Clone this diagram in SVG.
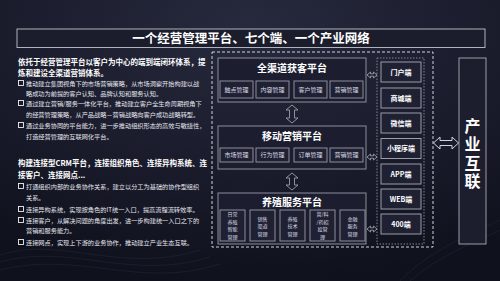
<svg xmlns="http://www.w3.org/2000/svg" width="500" height="281" viewBox="0 0 500 281">
<defs>
<radialGradient id="bg" cx="0.5" cy="0.1" r="0.9">
<stop offset="0" stop-color="#272a3d"/>
<stop offset="0.6" stop-color="#191b2b"/>
<stop offset="1" stop-color="#0f111c"/>
</radialGradient>
<style>
text{font-family:"Noto Sans CJK SC","Noto Sans",sans-serif;fill:#ffffff}
.h{font-size:7.5px;font-weight:bold}
.b{font-size:6.2px;fill:#e6e6ee}
.bx{fill:none;stroke:#f0f0f0;stroke-width:0.9}
.plat{fill:#1c1e30;stroke:#8c8e9c;stroke-width:1}
.sub{fill:#1f2133;stroke:#8c8e9c;stroke-width:1}
.pt{font-size:10px;font-weight:bold;text-anchor:middle}
.st{font-size:6px;text-anchor:middle;fill:#dcdce4}
.sc{font-size:5.1px;text-anchor:middle;fill:#dcdce4}
.end{fill:#1f2133;stroke:#9a9ca8;stroke-width:1}
.et{font-size:7px;font-weight:bold;text-anchor:middle}
.arr{fill:none;stroke:#9a9ca8;stroke-width:0.9}
.wave{fill:none;stroke:#3a4060;stroke-width:0.5;opacity:0.5}
</style>
</defs>
<rect width="500" height="281" fill="url(#bg)"/>
<g id="bgwaves">
<path class="wave" d="M0 255 C60 235 120 275 200 250"/>
<path class="wave" d="M0 262 C70 242 130 282 210 257"/>
<path class="wave" d="M0 270 C80 250 140 290 220 264"/>
<path class="wave" d="M400 281 C430 250 470 235 500 220"/>
<path class="wave" d="M410 281 C440 255 475 242 500 230"/>
</g>

<g id="title">
<rect x="17" y="29" width="468" height="18.5" fill="#1b1d2d" stroke="#b0b2bc" stroke-width="1"/>
<text x="251" y="43" text-anchor="middle" font-size="12.5" font-weight="bold">一个经营管理平台、七个端、一个产业网络</text>
</g>

<g id="leftText1">
<text class="h" x="18" y="65">依托于经营管理平台以客户为中心的端到端闭环体系，提</text>
<text class="h" x="18" y="76">炼和建设全渠道营销体系。</text>
<rect class="bx" x="18.5" y="80.5" width="5" height="5"/>
<text class="b" x="26" y="85.5">推动建立集团视角下的市场营销策略，从市场洞察开始构建以战</text>
<text class="b" x="26" y="96">略成功为前提的客户认知、品牌认知和服务认知。</text>
<rect class="bx" x="18.5" y="100.5" width="5" height="5"/>
<text class="b" x="26" y="105.5">通过建立营销/服务一体化平台，推动建立客户全生命周期视角下</text>
<text class="b" x="26" y="116.5">的经营管理策略，从产品战略－营销战略向客户成功战略转型。</text>
<rect class="bx" x="18.5" y="122.5" width="5" height="5"/>
<text class="b" x="26" y="127.5">通过业务协同的平台能力，进一步推动组织形态的高效与敏捷性，</text>
<text class="b" x="26" y="138.5">打造经营管理的互联网化平台。</text>
</g>

<g id="leftText2">
<text class="h" x="18" y="166">构建连接型CRM平台，连接组织角色、连接异构系统、连</text>
<text class="h" x="18" y="178">接客户、连接网点...</text>
<rect class="bx" x="18.5" y="183.5" width="5" height="5"/>
<text class="b" x="26" y="188.5">打通组织内部的业务协作关系，建立以分工为基础的协作型组织</text>
<text class="b" x="26" y="199.5">关系。</text>
<rect class="bx" x="18.5" y="206.5" width="5" height="5"/>
<text class="b" x="26" y="211.5">连接异构系统，实现按角色的IT统一入口，提高流程流转效率。</text>
<rect class="bx" x="18.5" y="217.5" width="5" height="5"/>
<text class="b" x="26" y="222.5">连接客户，从解决问题的角度出发，进一步构建统一入口之下的</text>
<text class="b" x="26" y="233">营销和服务能力。</text>
<rect class="bx" x="18.5" y="239.5" width="5" height="5"/>
<text class="b" x="26" y="244.5">连接网点，实现上下游的业务协作，推动建立产业生态互联。</text>
</g>

<g id="platformArea">
<rect x="212" y="52" width="221" height="195" fill="none" stroke="#d0d2da" stroke-width="1" stroke-dasharray="3,2"/>
</g>

<g id="platformA">
<rect class="plat" x="218" y="58" width="148" height="44"/>
<text class="pt" x="292" y="71.5">全渠道获客平台</text>
<rect class="sub" x="220" y="81" width="33" height="17"/>
<text class="st" x="236.5" y="91.7">触点管理</text>
<rect class="sub" x="256" y="81" width="33" height="17"/>
<text class="st" x="272.5" y="91.7">内容管理</text>
<rect class="sub" x="294" y="81" width="33" height="17"/>
<text class="st" x="310.5" y="91.7">客户管理</text>
<rect class="sub" x="330" y="81" width="33" height="17"/>
<text class="st" x="346.5" y="91.7">营销管理</text>
</g>

<g id="platformB">
<rect class="plat" x="218" y="126" width="148" height="43"/>
<text class="pt" x="292" y="139.5">移动营销平台</text>
<rect class="sub" x="220" y="148" width="33" height="14"/>
<text class="st" x="236.5" y="157.2">市场管理</text>
<rect class="sub" x="256" y="148" width="33" height="14"/>
<text class="st" x="272.5" y="157.2">行为管理</text>
<rect class="sub" x="294" y="148" width="33" height="14"/>
<text class="st" x="310.5" y="157.2">订单管理</text>
<rect class="sub" x="330" y="148" width="33" height="14"/>
<text class="st" x="346.5" y="157.2">营销管理</text>
</g>

<g id="platformC">
<rect class="plat" x="218" y="193" width="148" height="51"/>
<text class="pt" x="292" y="206">养殖服务平台</text>
<rect class="sub" x="220" y="210" width="25" height="31"/>
<text class="sc" x="232.5" y="216.4">日常</text>
<text class="sc" x="232.5" y="223.9">养殖</text>
<text class="sc" x="232.5" y="231.4">智能</text>
<text class="sc" x="232.5" y="238.9">管理</text>
<rect class="sub" x="250" y="210" width="25" height="31"/>
<text class="sc" x="262.5" y="220.7">销售</text>
<text class="sc" x="262.5" y="228.2">渠道</text>
<text class="sc" x="262.5" y="235.7">管理</text>
<rect class="sub" x="280" y="210" width="25" height="31"/>
<text class="sc" x="292.5" y="220.7">养殖</text>
<text class="sc" x="292.5" y="228.2">技术</text>
<text class="sc" x="292.5" y="235.7">管理</text>
<rect class="sub" x="310" y="210" width="25" height="31"/>
<text class="sc" x="322.5" y="216.4">兽/料</text>
<text class="sc" x="322.5" y="223.9">/药招</text>
<text class="sc" x="322.5" y="231.4">投管</text>
<text class="sc" x="322.5" y="238.9">理</text>
<rect class="sub" x="340" y="210" width="25" height="31"/>
<text class="sc" x="352.5" y="220.7">金融</text>
<text class="sc" x="352.5" y="228.2">服务</text>
<text class="sc" x="352.5" y="235.7">管理</text>
</g>

<g id="endsColumn">
<rect x="377" y="58" width="47" height="186" fill="none" stroke="#8c8e9c" stroke-width="0.9" stroke-dasharray="1.5,1.5"/>
<rect class="end" x="381" y="62" width="40" height="20"/>
<text class="et" x="401" y="74.5">门户端</text>
<rect class="end" x="381" y="88" width="40" height="20"/>
<text class="et" x="401" y="100.5">商城端</text>
<rect class="end" x="381" y="113" width="40" height="20"/>
<text class="et" x="401" y="125.5">微信端</text>
<rect class="end" x="381" y="138.5" width="40" height="20"/>
<text class="et" x="401" y="151">小程序端</text>
<rect class="end" x="381" y="164" width="40" height="20"/>
<text class="et" x="401" y="176.5">APP端</text>
<rect class="end" x="381" y="189" width="40" height="20"/>
<text class="et" x="401" y="201.5">WEB端</text>
<rect class="end" x="381" y="214" width="40" height="20"/>
<text class="et" x="401" y="226.5">400端</text>
</g>

<g id="industry">
<rect x="459" y="58" width="27" height="186" fill="#1c1e2e" stroke="#9a9ca8" stroke-width="1"/>
<text x="472.5" y="117.5" writing-mode="vertical-rl" font-size="16" font-weight="bold" letter-spacing="2.5">产业互联</text>
</g>

<g id="connectors">
<path class="arr" d="M292 105 L298 110 L294.5 110 L294.5 118 L298 118 L292 123 L286 118 L289.5 118 L289.5 110 L286 110 Z"/>
<path class="arr" d="M292 173 L298 178 L294.5 178 L294.5 185 L298 185 L292 190 L286 185 L289.5 185 L289.5 178 L286 178 Z"/>
<path class="arr" d="M367 75 L370.5 72 L370.5 73.8 L373.5 73.8 L373.5 72 L377 75 L373.5 78 L373.5 76.2 L370.5 76.2 L370.5 78 Z"/>
<path class="arr" d="M367 157 L370.5 154 L370.5 155.8 L373.5 155.8 L373.5 154 L377 157 L373.5 160 L373.5 158.2 L370.5 158.2 L370.5 160 Z"/>
<path class="arr" d="M367 229 L370.5 226 L370.5 227.8 L373.5 227.8 L373.5 226 L377 229 L373.5 232 L373.5 230.2 L370.5 230.2 L370.5 232 Z"/>
<path d="M433.5 143 L440 137 L440 140.5 L452 140.5 L452 137 L458.5 143 L452 149 L452 145.5 L440 145.5 L440 149 Z" fill="none" stroke="#d0d2da" stroke-width="1"/>
</g>
</svg>
